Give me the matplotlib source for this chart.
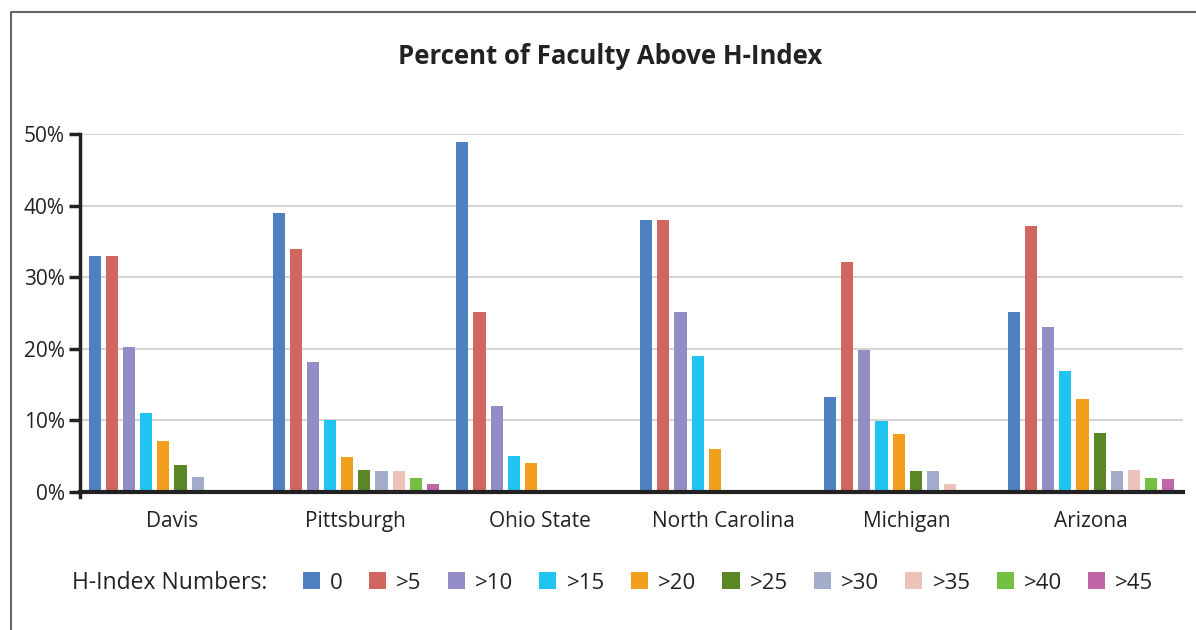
import matplotlib.pyplot as plt
from matplotlib.lines import Line2D
from matplotlib.patches import Patch
import numpy as np

plt.rcParams['font.family'] = ['Open Sans', 'DejaVu Sans']

schools = ['Davis', 'Pittsburgh', 'Ohio State', 'North Carolina', 'Michigan', 'Arizona']
h_labels = ['0', '>5', '>10', '>15', '>20', '>25', '>30', '>35', '>40', '>45']
colors = ['#4f81c2', '#d0665f', '#928dc5', '#21c3f0', '#f29f1e',
          '#5c8727', '#a3adcb', '#ecc2b9', '#75c043', '#c066a8']

# percent of faculty per school, one list per H-index threshold
h_0 = [33, 39, 48.9, 38, 13.2, 25.1]
h_5 = [33, 34, 25.2, 38, 32.1, 37.1]
h_10 = [20.3, 18.2, 12, 25.2, 19.9, 23.1]
h_15 = [11, 10, 5, 19, 9.9, 16.9]
h_20 = [7.1, 4.9, 4.1, 6, 8.1, 13]
h_25 = [3.8, 3.1, 0, 0, 2.9, 8.3]
h_30 = [2.1, 2.9, 0, 0, 2.9, 2.9]
h_35 = [0, 2.9, 0, 0, 1.1, 3.1]
h_40 = [0, 2, 0, 0, 0, 2]
h_45 = [0, 1.1, 0, 0, 0, 1.8]
series = [h_0, h_5, h_10, h_15, h_20, h_25, h_30, h_35, h_40, h_45]

fig = plt.figure(figsize=(11.96, 6.3), dpi=100)
ax = fig.add_axes([80 / 1196, 1 - 492 / 630, 1103 / 1196, 358 / 630])

x = np.arange(len(schools))
step = 0.0933
width = 0.066
for j, (vals, col) in enumerate(zip(series, colors)):
    ax.bar(x + (j - 4.5) * step, vals, width, color=col, zorder=3)

ax.set_xlim(-0.5, len(schools) - 0.5)
ax.set_ylim(0, 50)
ax.set_yticks(range(0, 51, 10))
ax.set_yticklabels([f'{v}%' for v in range(0, 51, 10)])
ax.set_xticks(x)
ax.set_xticklabels(schools)
ax.tick_params(axis='x', length=0, pad=14, labelsize=15, labelcolor='#222222')
ax.tick_params(axis='y', length=8, width=2.5, color='#222222', pad=3,
               labelsize=15, labelcolor='#222222')
ax.grid(axis='y', color='#d4d4d4', linewidth=1.5, zorder=0)
for s in ['top', 'right']:
    ax.spines[s].set_visible(False)
ax.spines['left'].set_linewidth(2.5)
ax.spines['left'].set_color('#222222')
ax.spines['left'].set_bounds(-0.7, 50)
ax.spines['bottom'].set_linewidth(3)
ax.spines['bottom'].set_color('#222222')
ax.spines['bottom'].set_zorder(4)

fig.text(610 / 1196, 1 - 56 / 630, 'Percent of Faculty Above H-Index',
         ha='center', va='center', fontsize=18.5, fontweight='bold', color='#222222')

# partial frame around the chart
fig.add_artist(Line2D([11 / 1196, 11 / 1196, 1.0], [0, 1 - 12 / 630, 1 - 12 / 630],
                      transform=fig.transFigure, color='#666666', linewidth=1.5))

fig.text(72 / 1196, 1 - 583 / 630, 'H-Index Numbers:', ha='left', va='center',
         fontsize=16.5, color='#222222')
handles = [Patch(facecolor=c, edgecolor='none') for c in colors]
fig.legend(handles, h_labels, ncol=10, frameon=False, fontsize=16,
           loc='center left', bbox_to_anchor=(283 / 1196, 1 - 583 / 630),
           handlelength=0.77, handleheight=0.77, handletextpad=0.45,
           columnspacing=1.18, labelcolor='#222222')

fig.savefig('out.png', dpi=100)
